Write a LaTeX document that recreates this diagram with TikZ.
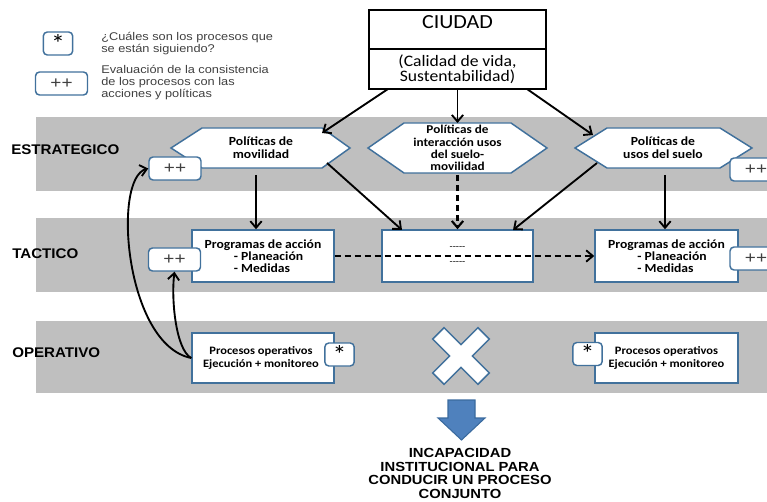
\documentclass[tikz,border=0pt]{standalone}
\usepackage{fontspec}
\usetikzlibrary{arrows.meta,calc}
\newfontfamily\calib{Carlito}[FakeStretch=1.1]
\newfontfamily\arialf{Liberation Sans}[FakeStretch=1.08]
\newfontfamily\arialg{Liberation Sans}[FakeStretch=1.14]
\newfontfamily\arialw{Liberation Sans}[FakeStretch=1.12]
\definecolor{bandgray}{HTML}{BFBFBF}
\definecolor{bord}{HTML}{41719C}
\definecolor{bluearr}{HTML}{4F81BD}
\definecolor{bluedark}{HTML}{3A6A9E}
\definecolor{legtxt}{HTML}{404040}
\newcommand\myNodeFont{\calib\bfseries\fontsize{9.3}{9.7}\selectfont}
\begin{document}
\begin{tikzpicture}[x=0.75pt,y=-0.75pt,
  bandrect/.style={fill=bandgray, draw=none},
  bluebox/.style={draw=bord, line width=1.1pt, fill=white, inner sep=0pt, align=center, font=\myNodeFont},
  blackbox/.style={draw=black, line width=1.1pt, fill=white, inner sep=0pt, align=center},
  hexs/.style={draw=bord, line width=1.1pt, fill=white, line join=miter},
  hext/.style={inner sep=0pt, align=center, font=\myNodeFont},
  ppbox/.style={draw=bord, line width=1.1pt, fill=white, rounded corners=3pt, minimum width=39pt, minimum height=17.25pt, inner sep=0pt, font=\arialg\fontsize{12.5}{12.5}\selectfont, text=legtxt},
  starbox/.style={draw=bord, line width=1.1pt, fill=white, rounded corners=3pt, minimum width=22pt, minimum height=17.25pt, inner sep=0pt},
  levlab/.style={anchor=west, inner sep=0pt, font=\arialf\bfseries\fontsize{10.5}{12}\selectfont},
  legtext/.style={anchor=west, inner sep=0pt, align=left, text=legtxt, font=\arialg\fontsize{8.4}{9}\selectfont},
  progbox/.style={bluebox, align=left, minimum width=106.5pt, minimum height=39pt},
  procbox/.style={bluebox, minimum width=106.5pt, minimum height=37.5pt, font=\calib\bfseries\fontsize{8.5}{9.75}\selectfont},
  arr/.style={line width=1.4pt, -{Straight Barb[length=5pt,width=8.5pt]}},
  darr/.style={arr, dash pattern=on 4.5pt off 3pt},
]
\useasboundingbox (0,0) rectangle (767,502);
\clip (0,0) rectangle (767,502);

% bands
\fill[bandrect] (36,117) rectangle (767,191);
\fill[bandrect] (36,218) rectangle (767,292);
\fill[bandrect] (36,321) rectangle (767,393);

% legend
\node[starbox] (starL) at (58,43.5) {\raisebox{-3pt}{\calib\fontsize{19}{19}\selectfont *}};
\node[legtext] (legA) at (101,44) {¿Cuáles son los procesos que\\se están siguiendo?};
\node[ppbox] (ppL) at (61.5,83.5) {++};
\node[legtext] (legB) at (101,83) {Evaluación de la consistencia\\de los procesos con las\\acciones y políticas};

% level labels
\node[levlab] (lE) at (11,150) {ESTRATEGICO};
\node[levlab] (lT) at (12,254) {TACTICO};
\node[levlab] (lO) at (12,353) {OPERATIVO};

% city
\node[blackbox, minimum width=132.75pt, minimum height=29.25pt] (ciudad) at (457.5,29.5) {};
\node[inner sep=0pt, font=\calib\fontsize{15}{16}\selectfont] (ciudadt) at (457.5,22) {CIUDAD};
\node[blackbox, minimum width=132.75pt, minimum height=30pt, font=\calib\fontsize{12}{11.5}\selectfont] (ciudadb) at (457.5,69) {(Calidad de vida,\\Sustentabilidad)};

% hexagons
\draw[hexs] (171,148) -- (202,128) -- (322,128) coordinate (h1tr) -- (350,148) -- (322,168) coordinate (h1br) -- (202,168) -- cycle;
\node[hext] (h1) at (261,148) {Políticas de\\movilidad};
\draw[hexs] (368,148) -- (404,123) -- (511,123) -- (547,148) -- (511,173) -- (404,173) -- cycle;
\coordinate (h2t) at (457.5,123);
\node[hext, font=\calib\bfseries\fontsize{9}{9.1}\selectfont] (h2) at (457.5,148) {Políticas de\\interacción usos\\del suelo-\\movilidad};
\draw[hexs] (575,148) -- (607,128) coordinate (h3tl) -- (720,128) -- (752,148) -- (720,168) -- (607,168) coordinate (h3bl) -- cycle;
\node[hext] (h3) at (663,148) {Políticas de\\usos del suelo};

% tactic boxes
\node[progbox] (prog1) at (263,256)
  {Programas de acción\\[-0.5pt]\hspace*{22pt}- Planeación\\[-0.5pt]\hspace*{22pt}- Medidas};
\node[bluebox, minimum width=113.25pt, minimum height=39pt] (mid) at (457.5,256) {};
\node[inner sep=0pt, font=\calib\fontsize{7}{7}\selectfont] (midA) at (457.5,248) {-----};
\node[inner sep=0pt, font=\calib\fontsize{7}{7}\selectfont] (midB) at (457.5,263) {-----};
\node[progbox, minimum width=107.25pt] (prog2) at (666.5,256)
  {Programas de acción\\[-0.5pt]\hspace*{22pt}- Planeación\\[-0.5pt]\hspace*{22pt}- Medidas};

% operative boxes
\node[procbox] (proc1) at (263,358) {\hspace*{-3pt}Procesos operativos\\\hspace*{-3pt}Ejecución + monitoreo};
\node[procbox, minimum width=107.25pt] (proc2) at (666.5,358) {Procesos operativos\\Ejecución + monitoreo};

% X shape
\draw[draw=bord, line width=1.1pt, fill=white, line join=miter, shift={(461,356)}, rotate=45]
  (-8,-32) -- (8,-32) -- (8,-8) -- (32,-8) -- (32,8) -- (8,8) -- (8,32) -- (-8,32) -- (-8,8) -- (-32,8) -- (-32,-8) -- (-8,-8) -- cycle;

% blue arrow
\draw[fill=bluearr, draw=bluedark, line width=0.8pt] (448,400) -- (475,400) -- (475,418) -- (485,418) -- (461.5,440) -- (438,418) -- (448,418) -- cycle;
\node[inner sep=0pt, align=center, font=\arialw\bfseries\fontsize{9.9}{10.3}\selectfont] (concl) at (460,473.5)
  {INCAPACIDAD\\INSTITUCIONAL PARA\\CONDUCIR UN PROCESO\\CONJUNTO};

% connectors from city
\coordinate (c1) at (388,89);
\coordinate (c3) at (527,89);
\coordinate (h1in) at (322,133);
\coordinate (h3in) at (593,135);
\draw[arr] (c1) -- (h1in);
\draw[arr] (ciudadb.south) -- (h2t);
\draw[arr] (c3) -- (h3in);

% strategic to tactic
\coordinate (h1b) at (256,175);
\coordinate (h2b) at (457.5,175);
\coordinate (h3b) at (665,175);
\coordinate (h1d) at (327,163);
\coordinate (h3d) at (597,163);
\draw[arr] (h1b) -- (h1b |- prog1.north);
\draw[arr] (h1d) -- (402,230) coordinate (m1);
\draw[darr, line width=1.6pt] (h2b) -- (mid.north);
\draw[arr] (h3d) -- (513,230) coordinate (m3);
\draw[arr] (h3b) -- (h3b |- prog2.north);

% dashed horizontal
\draw[darr] (prog1.east) -- (prog2.west);

% ++ boxes
\node[ppbox] (ppS1) at (175,168.5) {++};
\node[ppbox] (ppS3) at (756,169.5) {++};
\node[ppbox] (ppT1) at (174.5,259.5) {++};
\node[ppbox] (ppT2) at (756,258.5) {++};

% star boxes
\node[starbox] (star1) at (339.5,354.5) {\raisebox{-3pt}{\calib\fontsize{19}{19}\selectfont *}};
\node[starbox] (star2) at (587.5,354) {\raisebox{-3pt}{\calib\fontsize{19}{19}\selectfont *}};

% feedback curves
\draw[arr] (proc1.west) .. controls (125,345) and (112,178) .. (ppS1.west);
\draw[arr] (proc1.west) .. controls (176,350) and (171,300) .. (ppT1.south);
\end{tikzpicture}
\end{document}
